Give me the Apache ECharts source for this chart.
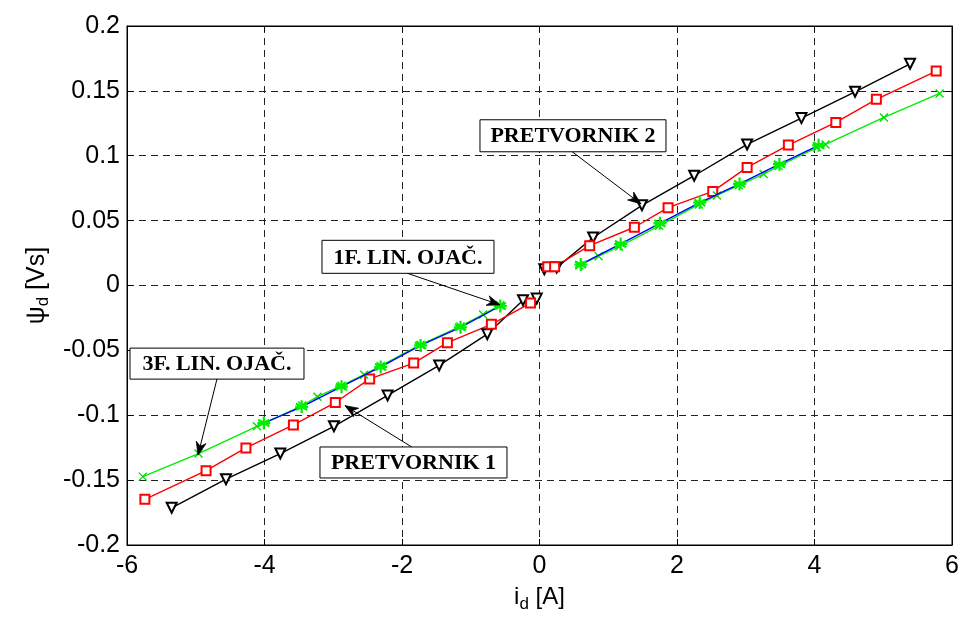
<!DOCTYPE html>
<html><head><meta charset="utf-8">
<script src="https://cdn.jsdelivr.net/npm/echarts@6/dist/echarts.min.js"></script>
<style>html,body{margin:0;padding:0;background:#fff}#c{width:965px;height:618px}</style>
</head><body><div id="c"></div>
<script>
// ---- axis ticks ----
const xMin = -6, xMax = 6, xStep = 2;
const yMin = -0.2, yMax = 0.2, yStep = 0.05;

// ---- series data [i_d, psi_d] ----
const pretvornikLeft = [[-5.35,-0.1713],[-4.56,-0.1493],[-3.77,-0.1295],[-2.99,-0.1085],[-2.21,-0.0847],[-1.46,-0.0616],[-0.76,-0.0375],[-0.24,-0.0113],[-0.04,-0.0101]];
const pretvornikRight = [[0.07,0.0125],[0.25,0.0138],[0.78,0.0370],[1.49,0.0618],[2.25,0.0846],[3.02,0.1087],[3.81,0.1290],[4.59,0.1493],[5.39,0.1709]];

const redLeft = [[-5.74,-0.1648],[-4.85,-0.1427],[-4.27,-0.1252],[-3.58,-0.1075],[-2.97,-0.0902],[-2.47,-0.0720],[-1.83,-0.0598],[-1.34,-0.0441],[-0.70,-0.0299],[-0.13,-0.0135]];
const redRight = [[0.12,0.0145],[0.22,0.0145],[0.73,0.0307],[1.38,0.0449],[1.87,0.0600],[2.52,0.0725],[3.02,0.0910],[3.62,0.1082],[4.31,0.1257],[4.90,0.1435],[5.77,0.1653]];

const lin3Left = [[-5.77,-0.1473],[-4.96,-0.1295],[-4.11,-0.1085],[-3.45,-0.0925],[-3.23,-0.0857],[-2.88,-0.0772],[-2.55,-0.0687],[-2.31,-0.0620],[-1.73,-0.0456],[-1.15,-0.0315],[-0.82,-0.0223],[-0.57,-0.0152]];
const lin3Right = [[0.58,0.0155],[0.86,0.0226],[1.16,0.0300],[1.74,0.0460],[2.32,0.0625],[2.58,0.0694],[2.90,0.0772],[3.26,0.0859],[3.48,0.0920],[4.04,0.1065],[4.16,0.1087],[5.01,0.1295],[5.82,0.1480]];

const lin1Left = [[-4.01,-0.1060],[-3.46,-0.0935],[-2.88,-0.0780],[-2.31,-0.0628],[-1.73,-0.0462],[-1.15,-0.0322],[-0.57,-0.0158]];
const lin1Right = [[0.60,0.0162],[1.18,0.0320],[1.75,0.0479],[2.33,0.0639],[2.91,0.0783],[3.49,0.0935],[4.06,0.1080]];

// ---- annotations (data coordinates) ----
const annotations = [
  {text:'PRETVORNIK 2',    box:[0.487,0.1154],  w:186, h:32, from:[0.473,0.1032],  to:[1.476,0.0629]},
  {text:'1F. LIN. OJAČ.',  box:[-1.913,0.0221], w:172, h:33, from:[-1.927,0.0095], to:[-0.575,-0.0149]},
  {text:'3F. LIN. OJAČ.',  box:[-4.691,-0.0602],w:174, h:31, from:[-4.691,-0.072], to:[-4.967,-0.1307]},
  {text:'PRETVORNIK 1',    box:[-1.833,-0.1364],w:187, h:31, from:[-1.855,-0.1246],to:[-2.829,-0.0926]}
];

const crossPath = 'path://M0,0L10,10M10,0L0,10';
const starPath = 'path://M5,0L5,10M0.67,2.5L9.33,7.5M0.67,7.5L9.33,2.5M0,5L10,5';

function mk(data, color, symbol, size, extra) {
  return Object.assign({
    type:'line', data:data, symbol:symbol, symbolSize:size, animation:false,
    lineStyle:{color:color, width:1.4},
    itemStyle:{color:color, borderWidth:1.2},
    z:3
  }, extra||{});
}

const chart = echarts.init(document.getElementById('c'), null, {renderer:'canvas'});
const fontAx = 'Liberation Sans, Arial, Helvetica, sans-serif';
const gridLine = {show:true, lineStyle:{color:'#222', width:1, type:[7,5]}};

chart.setOption({
  backgroundColor:'#fff',
  animation:false,
  grid:{left:127, right:13, top:26, bottom:67, show:true, borderColor:'#000', borderWidth:1},
  xAxis:[{
    type:'value', min:xMin, max:xMax, interval:xStep, position:'bottom',
    axisLine:{show:true, onZero:false, lineStyle:{color:'#000', width:1}},
    axisTick:{show:true, inside:true, length:6, lineStyle:{color:'#000'}},
    axisLabel:{color:'#000', fontSize:25, fontFamily:fontAx, margin:9},
    splitLine:gridLine,
    name:'{i|i}{s|d}{i| [A]}', nameLocation:'middle', nameGap:37,
    nameTextStyle:{rich:{i:{fontSize:24, fontFamily:fontAx, color:'#000'}, s:{fontSize:17, fontFamily:fontAx, color:'#000', verticalAlign:'bottom', padding:[14,0,0,0]}}}
  },{
    type:'value', min:xMin, max:xMax, interval:xStep, position:'top',
    axisLine:{show:true, onZero:false, lineStyle:{color:'#000'}},
    axisTick:{show:true, inside:true, length:6, lineStyle:{color:'#000'}},
    axisLabel:{show:false}, splitLine:{show:false}
  }],
  yAxis:[{
    type:'value', min:yMin, max:yMax, interval:yStep, position:'left',
    axisLine:{show:true, onZero:false, lineStyle:{color:'#000', width:1}},
    axisTick:{show:true, inside:true, length:6, lineStyle:{color:'#000'}},
    axisLabel:{color:'#000', fontSize:25, fontFamily:fontAx, margin:7, formatter:v=>String(+v.toFixed(2))},
    splitLine:gridLine,
    name:'{p|ψ}{s|d}{p| [Vs]}', nameLocation:'middle', nameGap:72, nameRotate:90,
    nameTextStyle:{rich:{p:{fontSize:25, fontFamily:fontAx, color:'#000'}, s:{fontSize:17, fontFamily:fontAx, color:'#000', padding:[14,0,0,0]}}}
  },{
    type:'value', min:yMin, max:yMax, interval:yStep, position:'right',
    axisLine:{show:true, onZero:false, lineStyle:{color:'#000'}},
    axisTick:{show:true, inside:true, length:6, lineStyle:{color:'#000'}},
    axisLabel:{show:false}, splitLine:{show:false}
  }],
  series:[
    mk(pretvornikLeft,'#000','emptyTriangle',10,{symbolRotate:180}),
    mk(pretvornikRight,'#000','emptyTriangle',10,{symbolRotate:180}),
    mk(redLeft,'#ff0000','emptyRect',9),
    mk(redRight,'#ff0000','emptyRect',9),
    mk(lin3Left,'#00ee00',crossPath,8,{itemStyle:{color:'none', borderColor:'#00dd00', borderWidth:1.4}}),
    mk(lin3Right,'#00ee00',crossPath,8,{itemStyle:{color:'none', borderColor:'#00dd00', borderWidth:1.4}}),
    mk(lin1Left,'#0000ff',starPath,13,{itemStyle:{color:'none', borderColor:'#00ee00', borderWidth:2.2}, z:4}),
    mk(lin1Right,'#0000ff',starPath,13,{itemStyle:{color:'none', borderColor:'#00ee00', borderWidth:2.2}, z:4})
  ]
});

// ---- annotation graphics ----
const gfx = [];
annotations.forEach(a => {
  const c = chart.convertToPixel({gridIndex:0}, a.box);
  const f = chart.convertToPixel({gridIndex:0}, a.from);
  const t = chart.convertToPixel({gridIndex:0}, a.to);
  gfx.push({type:'line', shape:{x1:f[0], y1:f[1], x2:t[0], y2:t[1]}, style:{stroke:'#000', lineWidth:1}, z:10});
  const dx = t[0]-f[0], dy = t[1]-f[1], L = Math.hypot(dx,dy), ux = dx/L, uy = dy/L;
  const bx = t[0]-13*ux, by = t[1]-13*uy, nx = -uy, ny = ux;
  const mx = t[0]-9*ux, my = t[1]-9*uy;
  gfx.push({type:'polygon', shape:{points:[[t[0],t[1]],[bx+5*nx,by+5*ny],[mx,my],[bx-5*nx,by-5*ny]]}, style:{fill:'#000', stroke:'#000', lineWidth:0.8}, z:10});
  gfx.push({type:'rect', shape:{x:c[0]-a.w/2, y:c[1]-a.h/2, width:a.w, height:a.h}, style:{fill:'#fff', stroke:'#000', lineWidth:1}, z:11});
  gfx.push({type:'text', x:c[0], y:c[1]+1, style:{text:a.text, font:'bold 22px "Liberation Serif", "Times New Roman", serif', fill:'#000', align:'center', verticalAlign:'middle'}, z:12});
});
chart.setOption({graphic:gfx});
</script>
</body></html>
